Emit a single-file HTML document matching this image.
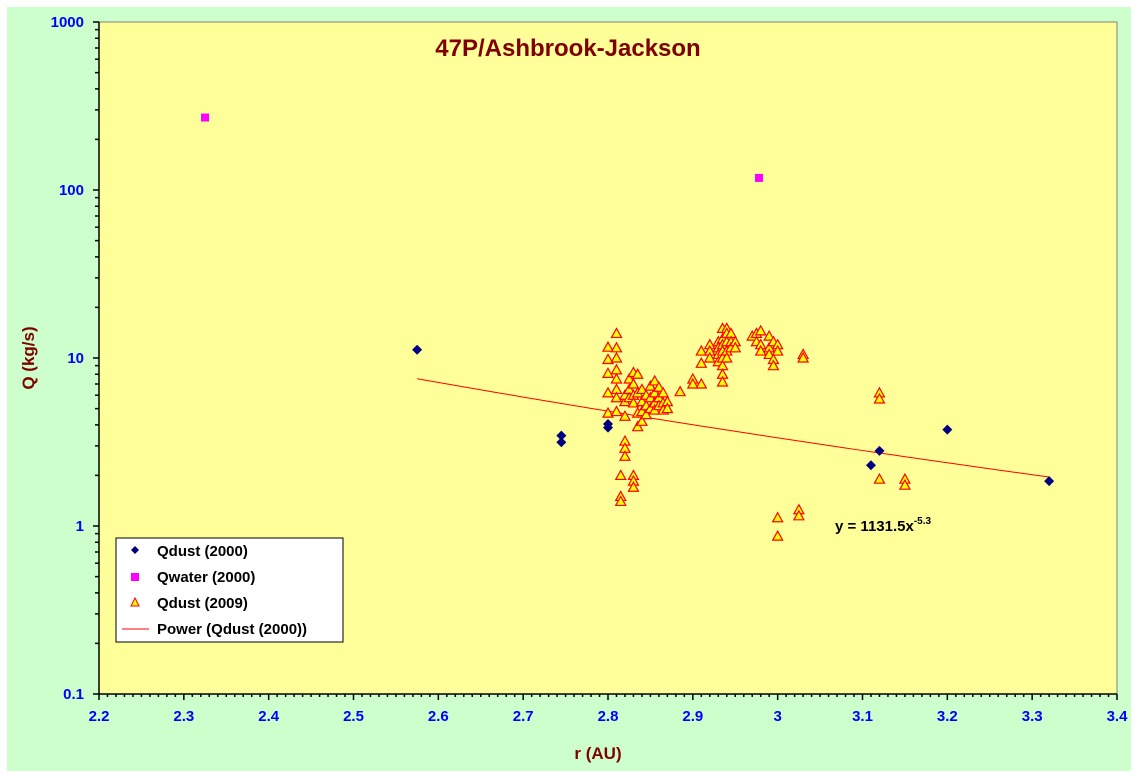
<!DOCTYPE html>
<html><head><meta charset="utf-8"><style>
body{margin:0;background:#fff}
svg{display:block;font-family:"Liberation Sans",sans-serif}
</style></head><body>
<svg id="c" width="1138" height="778">
<rect x="7" y="7" width="1124" height="764" fill="#ccffcc"/>
<rect x="99" y="22" width="1018" height="672" fill="#ffff99" stroke="#808080"/>
<g id="axes"></g>
<g id="marks"></g>
<text x="568" y="56" text-anchor="middle" font-size="24" font-weight="bold" fill="#800000">47P/Ashbrook-Jackson</text>
<text x="598" y="759" text-anchor="middle" font-size="17" font-weight="bold" fill="#800000">r (AU)</text>
<text transform="translate(34,358) rotate(-90)" text-anchor="middle" font-size="17" font-weight="bold" fill="#800000">Q (kg/s)</text>
<text x="835" y="531" font-size="15" font-weight="bold" fill="#000">y = 1131.5x<tspan font-size="10" dy="-7">-5.3</tspan></text>
<g>
<rect x="116" y="538" width="227" height="104" fill="#fff" stroke="#000"/>
<path d="M135 546 l4 4 -4 4 -4 -4z" fill="#000080"/>
<text x="157" y="556" font-size="15" font-weight="bold">Qdust (2000)</text>
<rect x="131" y="573" width="8" height="8" fill="#ff00ff"/>
<text x="157" y="582" font-size="15" font-weight="bold">Qwater (2000)</text>
<path d="M135 598 l4 8 -8 0z" fill="#ffff00" stroke="#ff0000"/>
<text x="157" y="608" font-size="15" font-weight="bold">Qdust (2009)</text>
<line x1="122" y1="629" x2="149" y2="629" stroke="#ff0000"/>
<text x="157" y="634" font-size="15" font-weight="bold">Power (Qdust (2000))</text>
</g>
</svg>
<script>
const xTicks=[2.2,2.3,2.4,2.5,2.6,2.7,2.8,2.9,3,3.1,3.2,3.3,3.4];
const yTicks=[0.1,1,10,100,1000];
const dust2000R=[2.575,2.745,2.745,2.8,2.8,3.11,3.12,3.2,3.32];
const dust2000Q=[11.2,3.45,3.15,4.05,3.85,2.3,2.8,3.75,1.85];
const water2000R=[2.325,2.978];
const water2000Q=[270,118];
const dust2009R=[2.8,2.8,2.8,2.8,2.8,2.81,2.81,2.81,2.81,2.81,2.81,2.81,2.81,2.815,2.815,2.815,2.82,2.82,2.82,2.82,2.82,2.82,2.825,2.825,2.825,2.83,2.83,2.83,2.83,2.83,2.83,2.83,2.835,2.835,2.835,2.835,2.84,2.84,2.84,2.84,2.845,2.845,2.845,2.85,2.85,2.85,2.855,2.855,2.855,2.855,2.86,2.86,2.86,2.865,2.865,2.865,2.87,2.87,2.885,2.9,2.9,2.91,2.91,2.91,2.92,2.92,2.92,2.93,2.93,2.93,2.93,2.935,2.935,2.935,2.935,2.935,2.935,2.935,2.935,2.94,2.94,2.94,2.94,2.94,2.945,2.945,2.945,2.95,2.95,2.97,2.975,2.975,2.98,2.98,2.98,2.99,2.99,2.99,2.995,2.995,2.995,3.0,3.0,3.03,3.03,3.12,3.12,3.12,3.15,3.15,3.0,3.0,3.025,3.025];
const dust2009Q=[11.6,9.8,8.1,6.2,4.7,14,11.5,10,8.5,7.5,6.5,5.8,4.8,2.0,1.5,1.4,3.2,2.9,2.6,5.5,6.0,4.5,6.5,7.5,5.8,8.2,7.0,6.0,5.4,2.0,1.85,1.7,8.0,6.2,4.7,3.9,6.5,5.5,4.8,4.2,6.0,5.2,4.6,6.8,5.8,5.0,7.3,6.2,5.4,4.9,6.7,5.8,5.2,6.2,5.4,4.9,5.5,5.0,6.3,7.5,7.0,11,9.3,7.0,12,11,10,12.5,11.5,10.5,9.5,15,13,12,11,10,9,8,7.2,15,14,12.5,11,10,14,12.5,11.5,12.5,11.5,13.5,14,12.5,14.5,12,11,13.5,11.5,10.5,12.5,9.8,9.0,12,11,10.5,10,6.2,5.7,1.9,1.9,1.75,1.12,0.87,1.25,1.15];
const fitA=1131.5, fitB=-5.3, fitR=[2.575,3.32];
const X0=99,X1=1117,Y0=694,Y1=22;
const xs=v=>X0+(v-2.2)/1.2*(X1-X0);
const ys=v=>Y0-(Math.log10(v)+1)/4*(Y0-Y1);
const NS='http://www.w3.org/2000/svg';
function mk(t,p,a){const e=document.createElementNS(NS,t);for(const k in a)e.setAttribute(k,a[k]);p.appendChild(e);return e;}
const ax=document.getElementById('axes'),mg=document.getElementById('marks');
let d='M'+X0+' '+Y1+'V'+Y0+'H'+X1;
for(let i=0;i<=120;i++){const x=X0+i*(X1-X0)/120;d+=' M'+x+' '+Y0+'v'+(i%10==0?6:3);}
for(let k=-1;k<3;k++)for(let m=1;m<=10;m++){const y=ys(m*Math.pow(10,k));d+=' M'+X0+' '+y+'h-'+(m==1||m==10?6:4);}
const axl=mk('path',ax,{d:d,stroke:'#000',fill:'none','stroke-width':1.5});


xTicks.forEach(v=>{const t=mk('text',ax,{x:xs(v),y:Y0+27,'text-anchor':'middle','font-size':15,'font-weight':'bold',fill:'#0000ff'});t.textContent=String(v);

});
yTicks.forEach(v=>{const t=mk('text',ax,{x:X0-15,y:ys(v)+5,'text-anchor':'end','font-size':15,'font-weight':'bold',fill:'#0000ff'});t.textContent=String(v);

});
const fp=[];for(let i=0;i<=40;i++){const r=fitR[0]+(fitR[1]-fitR[0])*i/40;fp.push(xs(r)+','+ys(fitA*Math.pow(r,fitB)));}
const fl=mk('polyline',mg,{points:fp.join(' '),fill:'none',stroke:'#ff0000','stroke-width':1});


dust2009R.forEach((r,i)=>{const x=xs(r),y=ys(dust2009Q[i]);const p=mk('path',mg,{d:`M${x} ${y-5}L${x+5} ${y+4}L${x-5} ${y+4}Z`,fill:'#ffff00',stroke:'#ff0000','stroke-width':1.2});

});
dust2000R.forEach((r,i)=>{const x=xs(r),y=ys(dust2000Q[i]);const p=mk('path',mg,{d:`M${x} ${y-5}L${x+5} ${y}L${x} ${y+5}L${x-5} ${y}Z`,fill:'#000080'});

});
water2000R.forEach((r,i)=>{const x=xs(r),y=ys(water2000Q[i]);const p=mk('rect',mg,{x:x-4,y:y-4,width:8,height:8,fill:'#ff00ff'});

});
</script>
</body></html>
